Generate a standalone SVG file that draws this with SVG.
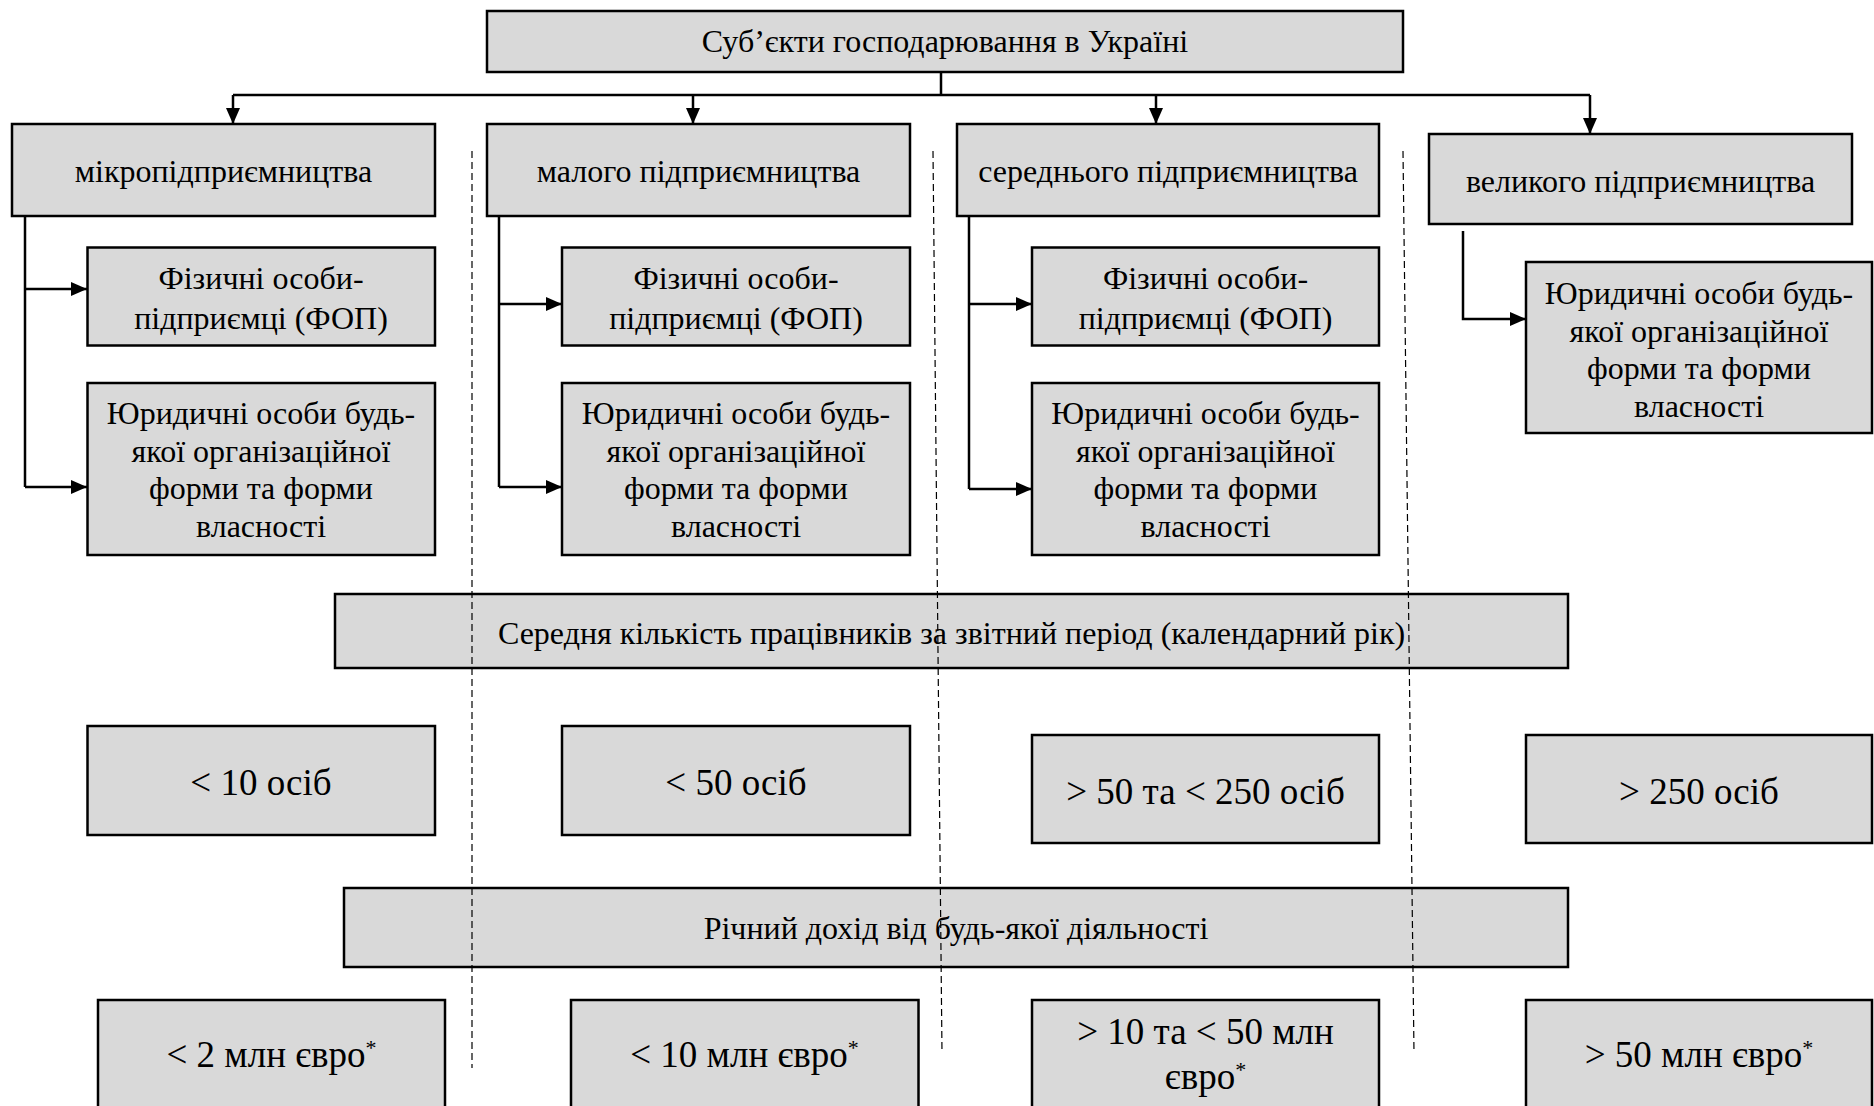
<svg xmlns="http://www.w3.org/2000/svg" width="1874" height="1106" viewBox="0 0 1874 1106">
<style>
.box{fill:#d9d9d9;stroke:#000;stroke-width:2.5}
.t{font-family:'Liberation Serif','Times New Roman',serif;font-size:32px;fill:#000;text-anchor:middle}
.tl{font-size:37px}
.sup{font-size:22px}
.c{fill:none;stroke:#000;stroke-width:2.5}
.d{fill:none;stroke:#000;stroke-width:1.2;stroke-dasharray:7 4}
</style>
<defs>
<marker id="ah" viewBox="0 0 16 14" refX="16" refY="7" markerWidth="16" markerHeight="14" markerUnits="userSpaceOnUse" orient="auto">
<path d="M0,0 L16,7 L0,14 z" fill="#000"/>
</marker>
</defs>
<rect width="1874" height="1106" fill="#fff"/>
<g id="connectors">
<path class="c" d="M941,72 V95 M233,95 H1590"/>
<path class="c" d="M233,95 V124" marker-end="url(#ah)"/>
<path class="c" d="M693,95 V124" marker-end="url(#ah)"/>
<path class="c" d="M1156,95 V124" marker-end="url(#ah)"/>
<path class="c" d="M1590,95 V134" marker-end="url(#ah)"/>
<path class="c" d="M25,216 V487"/>
<path class="c" d="M25,289 H87" marker-end="url(#ah)"/>
<path class="c" d="M25,487 H87" marker-end="url(#ah)"/>
<path class="c" d="M499,216 V487"/>
<path class="c" d="M499,304 H562" marker-end="url(#ah)"/>
<path class="c" d="M499,487 H562" marker-end="url(#ah)"/>
<path class="c" d="M969,216 V489"/>
<path class="c" d="M969,304 H1032" marker-end="url(#ah)"/>
<path class="c" d="M969,489 H1032" marker-end="url(#ah)"/>
<path class="c" d="M1463,231 V319 H1526" marker-end="url(#ah)"/>
</g>
<g id="n-root"><rect class="box" x="487" y="11" width="916" height="61"/><text class="t" x="945" y="52">Суб’єкти господарювання в Україні</text></g>
<g id="n-micro"><rect class="box" x="12" y="124" width="423" height="92"/><text class="t" x="223.5" y="182">мікропідприємництва</text></g>
<g id="n-small"><rect class="box" x="487" y="124" width="423" height="92"/><text class="t" x="698.5" y="182">малого підприємництва</text></g>
<g id="n-medium"><rect class="box" x="957" y="124" width="422" height="92"/><text class="t" x="1168" y="182">середнього підприємництва</text></g>
<g id="n-large"><rect class="box" x="1429" y="134" width="423" height="90"/><text class="t" x="1640.5" y="192">великого підприємництва</text></g>

<g id="n-fop1"><rect class="box" x="87.5" y="247.5" width="347.5" height="98"/><text class="t" x="261" y="289">Фізичні особи-</text><text class="t" x="261" y="328.5">підприємці (ФОП)</text></g>
<g id="n-fop2"><rect class="box" x="562" y="247.5" width="348" height="98"/><text class="t" x="736" y="289">Фізичні особи-</text><text class="t" x="736" y="328.5">підприємці (ФОП)</text></g>
<g id="n-fop3"><rect class="box" x="1032" y="247.5" width="347" height="98"/><text class="t" x="1205.5" y="289">Фізичні особи-</text><text class="t" x="1205.5" y="328.5">підприємці (ФОП)</text></g>

<g id="n-ur1"><rect class="box" x="87.5" y="383" width="347.5" height="172"/><text class="t" x="261" y="424">Юридичні особи будь-</text><text class="t" x="261" y="461.5">якої організаційної</text><text class="t" x="261" y="499">форми та форми</text><text class="t" x="261" y="536.5">власності</text></g>
<g id="n-ur2"><rect class="box" x="562" y="383" width="348" height="172"/><text class="t" x="736" y="424">Юридичні особи будь-</text><text class="t" x="736" y="461.5">якої організаційної</text><text class="t" x="736" y="499">форми та форми</text><text class="t" x="736" y="536.5">власності</text></g>
<g id="n-ur3"><rect class="box" x="1032" y="383" width="347" height="172"/><text class="t" x="1205.5" y="424">Юридичні особи будь-</text><text class="t" x="1205.5" y="461.5">якої організаційної</text><text class="t" x="1205.5" y="499">форми та форми</text><text class="t" x="1205.5" y="536.5">власності</text></g>
<g id="n-ur4"><rect class="box" x="1526" y="262" width="346" height="171"/><text class="t" x="1699" y="304">Юридичні особи будь-</text><text class="t" x="1699" y="341.5">якої організаційної</text><text class="t" x="1699" y="379">форми та форми</text><text class="t" x="1699" y="416.5">власності</text></g>

<g id="n-staff"><rect class="box" x="335" y="594" width="1233" height="74"/><text class="t" x="951.5" y="644">Середня кількість працівників за звітний період (календарний рік)</text></g>
<g id="n-s1"><rect class="box" x="87.5" y="726" width="347.5" height="109"/><text class="t tl" x="261" y="795">&lt; 10 осіб</text></g>
<g id="n-s2"><rect class="box" x="562" y="726" width="348" height="109"/><text class="t tl" x="736" y="795">&lt; 50 осіб</text></g>
<g id="n-s3"><rect class="box" x="1032" y="735" width="347" height="108"/><text class="t tl" x="1205.5" y="804">&gt; 50 та &lt; 250 осіб</text></g>
<g id="n-s4"><rect class="box" x="1526" y="735" width="346" height="108"/><text class="t tl" x="1699" y="804">&gt; 250 осіб</text></g>

<g id="n-income"><rect class="box" x="344" y="888" width="1224" height="79"/><text class="t" x="956" y="939">Річний дохід від будь-якої діяльності</text></g>
<g id="n-i1"><rect class="box" x="98" y="1000" width="347" height="120"/><text class="t tl" x="271.5" y="1067">&lt; 2 млн євро<tspan class="sup" dy="-12">*</tspan></text></g>
<g id="n-i2"><rect class="box" x="571" y="1000" width="347.5" height="120"/><text class="t tl" x="744.5" y="1067">&lt; 10 млн євро<tspan class="sup" dy="-12">*</tspan></text></g>
<g id="n-i3"><rect class="box" x="1032" y="1000" width="347" height="120"/><text class="t tl" x="1205.5" y="1044">&gt; 10 та &lt; 50 млн</text><text class="t tl" x="1205.5" y="1089">євро<tspan class="sup" dy="-12">*</tspan></text></g>
<g id="n-i4"><rect class="box" x="1526" y="1000" width="346" height="120"/><text class="t tl" x="1699" y="1067">&gt; 50 млн євро<tspan class="sup" dy="-12">*</tspan></text></g>

<g id="dividers">
<path class="d" d="M472,151 L472,1068"/>
<path class="d" d="M933,151 L942,1053"/>
<path class="d" d="M1403,151 L1414,1053"/>
</g>
</svg>
